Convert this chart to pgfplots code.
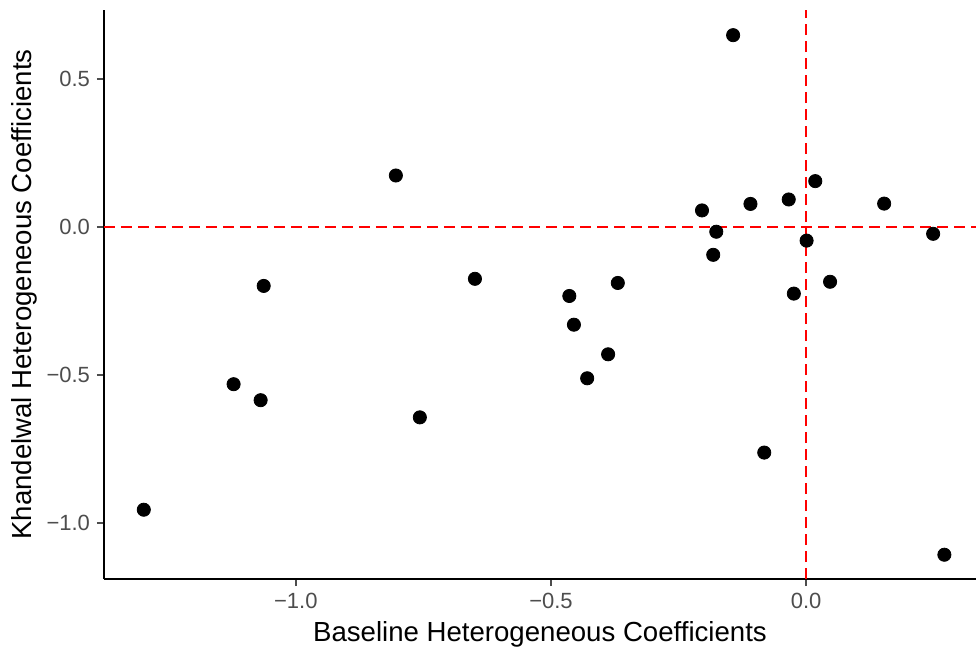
\documentclass[border=0pt]{standalone}
\usepackage{pgfplots}
\pgfplotsset{compat=1.18}
\usepackage{fontspec}
\setmainfont{Liberation Sans}
\definecolor{tickgray}{RGB}{77,77,77}
\begin{document}
\begin{tikzpicture}
\useasboundingbox (-52pt,-35.5pt) rectangle (436pt,289.5pt);
\begin{axis}[
  at={(0,0)}, anchor=south west,
  scale only axis, width=436pt, height=284.5pt,
  xmin=-1.376, xmax=0.333, ymin=-1.19, ymax=0.732,
  axis x line*=bottom, axis y line*=left,
  axis line style={-, line width=0.9pt, black},
  tick align=outside, major tick length=3.5pt,
  tick style={line width=0.9pt, tickgray},
  xtick={-1,-0.5,0}, xticklabels={−1.0,−0.5,0.0},
  ytick={-1,-0.5,0,0.5}, yticklabels={−1.0,−0.5,0.0,0.5},
  ticklabel style={font=\fontsize{11}{13}\selectfont, text=tickgray},
  xlabel={Baseline Heterogeneous Coefficients},
  ylabel={Khandelwal Heterogeneous Coefficients},
  label style={font=\fontsize{13.8}{16}\selectfont},
  xlabel style={yshift=0.5pt},
  ylabel style={yshift=-2pt},
  clip=false,
]
\addplot[red, dashed, line width=0.9pt, dash pattern=on 5.5pt off 3pt] coordinates {(0,-1.19) (0,0.732)};
\addplot[red, dashed, line width=0.9pt, dash pattern=on 5.5pt off 3pt] coordinates {(-1.376,0) (0.333,0)};
\addplot[only marks, mark=*, mark size=3.3pt, black] coordinates {
(-1.298,-0.956)
(-1.122,-0.532)
(-1.069,-0.586)
(-1.063,-0.200)
(-0.804,0.173)
(-0.757,-0.644)
(-0.649,-0.176)
(-0.464,-0.234)
(-0.455,-0.331)
(-0.429,-0.512)
(-0.388,-0.431)
(-0.369,-0.190)
(-0.204,0.055)
(-0.182,-0.095)
(-0.176,-0.017)
(-0.143,0.647)
(-0.109,0.077)
(-0.082,-0.763)
(-0.034,0.092)
(-0.024,-0.226)
(0.001,-0.047)
(0.018,0.154)
(0.047,-0.186)
(0.153,0.078)
(0.249,-0.024)
(0.271,-1.108)
};
\end{axis}
\end{tikzpicture}
\end{document}
